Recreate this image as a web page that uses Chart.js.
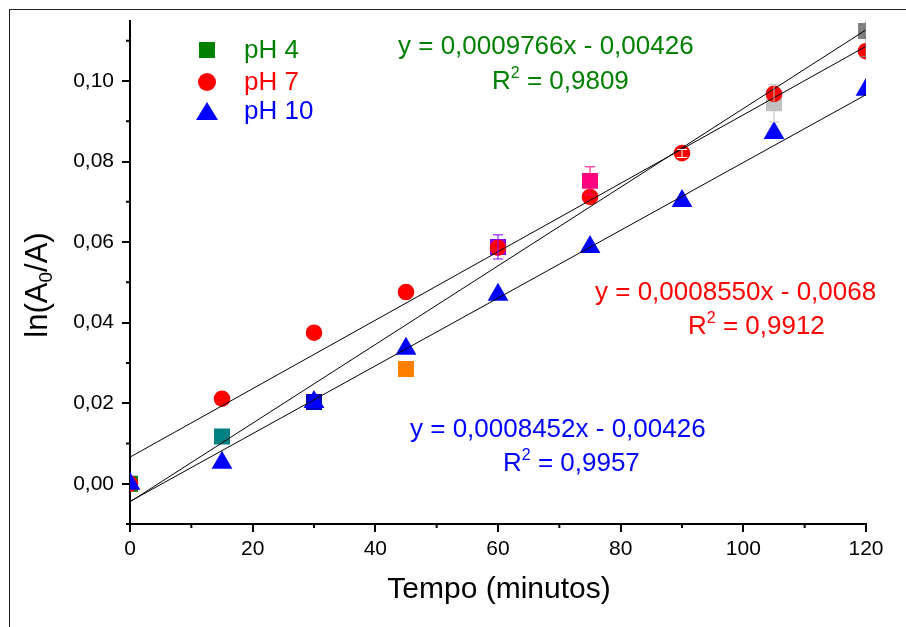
<!DOCTYPE html>
<html>
<head>
<meta charset="utf-8">
<script src="https://cdn.jsdelivr.net/npm/chart.js@4.4.0/dist/chart.umd.min.js"></script>
<style>
  html, body { margin: 0; padding: 0; background: #fff; }
  #wrap { width: 906px; height: 627px; }
</style>
</head>
<body>
<div id="wrap"><canvas id="chartCinetica" width="906" height="627"></canvas></div>
<script>
// dados
const tempos = [0, 15, 30, 45, 60, 75, 90, 105, 120];
const ph4 = [0, 0.0117, 0.0203, 0.0285, 0.0588, 0.0752, 0.0820, 0.0945, 0.1124];
const ph4Erro = [0, 0, 0, 0, 0.0030, 0.0035, 0.0010, 0.0047, 0.0063];
const ph7 = [0, 0.0211, 0.0375, 0.0476, 0.0586, 0.0712, 0.0821, 0.0968, 0.1074];
const ph10 = [0, 0.0052, 0.0203, 0.0335, 0.0469, 0.0588, 0.0702, 0.0871, 0.0978];

// retas de ajuste (extremos)
const ajusteX = [0, 120];
const ajuste4 = [-0.0045, 0.1127];
const ajuste7 = [0.0066, 0.1086];
const ajuste10 = [-0.0044, 0.0966];

const ticksX = [0, 20, 40, 60, 80, 100, 120];
const ticksXMenor = [10, 30, 50, 70, 90, 110];
const ticksY = [0, 0.02, 0.04, 0.06, 0.08, 0.10];
const ticksYMenor = [-0.01, 0.01, 0.03, 0.05, 0.07, 0.09, 0.11];

const series = ['pH 4', 'pH 7', 'pH 10'];
const equacoes = ['y = 0,0009766x - 0,00426', 'y = 0,0008550x - 0,0068', 'y = 0,0008452x - 0,00426'];
const r2 = ['0,9809', '0,9912', '0,9957'];

// estilos
const coresSerie = ['#008000', '#ff0000', '#0000ff'];
const coresPh4 = ['#008000', '#008080', '#0000c0', '#ff8000', '#8000ff', '#ff0080', '#ffffff', '#c0c0c0', '#808080'];
const posEquacoes = [
  { eq: [398, 47], r2: [492, 82] },
  { eq: [595, 293], r2: [688, 327] },
  { eq: [410, 430], r2: [503, 464] }
];
const FONTE = "'Liberation Sans', Arial, sans-serif";

const pontos = (ys) => tempos.map((t, i) => ({ x: t, y: ys[i] }));
const reta = (ys) => ajusteX.map((t, i) => ({ x: t, y: ys[i] }));

function textoComIndice(ctx, partes, x, y, tam, cor) {
  // partes: [texto, tipo] tipo = '' | 'sup' | 'sub'
  ctx.fillStyle = cor;
  ctx.textBaseline = 'middle';
  ctx.textAlign = 'left';
  let cx = x;
  partes.forEach(([t, tipo]) => {
    const s = tipo ? Math.round(tam * 0.62) : tam;
    ctx.font = s + 'px ' + FONTE;
    let dy = 0;
    if (tipo === 'sup') dy = -tam * 0.32;
    if (tipo === 'sub') dy = tam * 0.28;
    ctx.fillText(t, cx, y + dy);
    cx += ctx.measureText(t).width;
  });
  return cx - x;
}

function simbolo(ctx, tipo, x, y, cor) {
  ctx.fillStyle = cor;
  ctx.beginPath();
  if (tipo === 'rect') ctx.rect(x - 8, y - 8, 16, 16);
  else if (tipo === 'circle') ctx.arc(x, y, 9, 0, Math.PI * 2);
  else {
    ctx.moveTo(x, y - 9);
    ctx.lineTo(x + 11, y + 9);
    ctx.lineTo(x - 11, y + 9);
    ctx.closePath();
  }
  ctx.fill();
}

const extras = {
  id: 'extras',
  afterDatasetsDraw(chart) {
    const { ctx, chartArea, scales } = chart;
    ctx.save();
    ctx.beginPath();
    ctx.rect(chartArea.left, chartArea.top, chartArea.right - chartArea.left, chartArea.bottom - chartArea.top);
    ctx.clip();
    ctx.lineWidth = 1;
    ph4Erro.forEach((e, i) => {
      if (!e) return;
      const px = scales.x.getPixelForValue(tempos[i]);
      const y1 = scales.y.getPixelForValue(ph4[i] + e);
      const y2 = scales.y.getPixelForValue(ph4[i] - e);
      ctx.strokeStyle = coresPh4[i];
      ctx.beginPath();
      ctx.moveTo(px, y1); ctx.lineTo(px, y2);
      ctx.moveTo(px - 5, y1); ctx.lineTo(px + 5, y1);
      ctx.moveTo(px - 5, y2); ctx.lineTo(px + 5, y2);
      ctx.stroke();
    });
    ctx.restore();
  },
  afterDraw(chart) {
    const { ctx, chartArea, scales } = chart;
    ctx.save();
    // ticks menores
    ctx.strokeStyle = '#000';
    ctx.lineWidth = 2;
    ctx.beginPath();
    ticksXMenor.forEach(v => {
      const px = scales.x.getPixelForValue(v);
      ctx.moveTo(px, chartArea.bottom); ctx.lineTo(px, chartArea.bottom + 4);
    });
    ticksYMenor.forEach(v => {
      const py = scales.y.getPixelForValue(v);
      ctx.moveTo(chartArea.left, py); ctx.lineTo(chartArea.left - 4, py);
    });
    ctx.stroke();

    // títulos dos eixos
    ctx.fillStyle = '#000';
    ctx.font = '30px ' + FONTE;
    ctx.textAlign = 'center';
    ctx.textBaseline = 'middle';
    ctx.fillText('Tempo (minutos)', 499, 590);
    ctx.save();
    ctx.translate(38, 285);
    ctx.rotate(-Math.PI / 2);
    const partesY = [['ln(A', ''], ['0', 'sub'], ['/A)', '']];
    let w = 0;
    partesY.forEach(([t, tipo]) => {
      ctx.font = (tipo ? Math.round(31 * 0.62) : 31) + 'px ' + FONTE;
      w += ctx.measureText(t).width;
    });
    textoComIndice(ctx, partesY, -w / 2, 0, 31, '#000');
    ctx.restore();

    // legenda
    const tipos = ['rect', 'circle', 'triangle'];
    const ys = [50, 82, 111];
    series.forEach((s, i) => {
      simbolo(ctx, tipos[i], 207, ys[i], coresSerie[i]);
      ctx.font = '26px ' + FONTE;
      ctx.fillStyle = coresSerie[i];
      ctx.textAlign = 'left';
      ctx.textBaseline = 'middle';
      ctx.fillText(s, 244, ys[i] + 1);
    });

    // equações
    equacoes.forEach((eq, i) => {
      const p = posEquacoes[i];
      textoComIndice(ctx, [[eq, '']], p.eq[0], p.eq[1], 26, coresSerie[i]);
      textoComIndice(ctx, [['R', ''], ['2', 'sup'], [' = ' + r2[i], '']], p.r2[0], p.r2[1], 26, coresSerie[i]);
    });

    // moldura
    ctx.strokeStyle = '#222';
    ctx.lineWidth = 1;
    ctx.strokeRect(9.5, 9.5, 1000, 1000);
    ctx.restore();
  }
};

const ctxCinetica = document.getElementById('chartCinetica').getContext('2d');
new Chart(ctxCinetica, {
  type: 'scatter',
  data: {
    datasets: [
      { label: 'ajuste pH 4', type: 'line', data: reta(ajuste4), borderColor: '#000', borderWidth: 1, pointRadius: 0, fill: false, order: 0 },
      { label: 'ajuste pH 7', type: 'line', data: reta(ajuste7), borderColor: '#000', borderWidth: 1, pointRadius: 0, fill: false, order: 0 },
      { label: 'ajuste pH 10', type: 'line', data: reta(ajuste10), borderColor: '#000', borderWidth: 1, pointRadius: 0, fill: false, order: 0 },
      { label: series[2], data: pontos(ph10), pointStyle: 'triangle', pointRadius: 12, backgroundColor: coresSerie[2], borderWidth: 0, order: 1 },
      { label: series[1], data: pontos(ph7), pointStyle: 'circle', pointRadius: 8.3, backgroundColor: coresSerie[1], borderWidth: 0, order: 2 },
      { label: series[0], data: pontos(ph4), pointStyle: 'rect', pointRadius: 11.3, backgroundColor: coresPh4, borderWidth: 0, order: 3 }
    ].map(ds => ({ ...ds, clip: 0, pointHoverRadius: ds.pointRadius }))
  },
  options: {
    responsive: false,
    animation: false,
    events: [],
    layout: { padding: { top: 20, right: 40, left: 0, bottom: 0 } },
    scales: {
      x: {
        type: 'linear',
        min: 0,
        max: 120,
        afterBuildTicks: s => { s.ticks = ticksX.map(v => ({ value: v })); },
        afterFit: s => { s.height = 103; },
        border: { color: '#000', width: 2 },
        grid: { drawOnChartArea: false, drawTicks: true, tickLength: 8, color: '#000', lineWidth: 2 },
        ticks: { color: '#000', font: { family: FONTE, size: 21 }, padding: 5, maxRotation: 0, autoSkip: false }
      },
      y: {
        type: 'linear',
        min: -0.01,
        max: 0.115,
        afterBuildTicks: s => { s.ticks = ticksY.map(v => ({ value: v })); },
        afterFit: s => { s.width = 130; },
        border: { color: '#000', width: 2 },
        grid: { drawOnChartArea: false, drawTicks: true, tickLength: 8, color: '#000', lineWidth: 2 },
        ticks: {
          color: '#000',
          font: { family: FONTE, size: 21 },
          padding: 8,
          callback: function(value) {
            return value.toFixed(2).replace('.', ',');
          }
        }
      }
    },
    plugins: {
      legend: { display: false },
      tooltip: { enabled: false }
    }
  },
  plugins: [extras]
});
</script>
</body>
</html>
